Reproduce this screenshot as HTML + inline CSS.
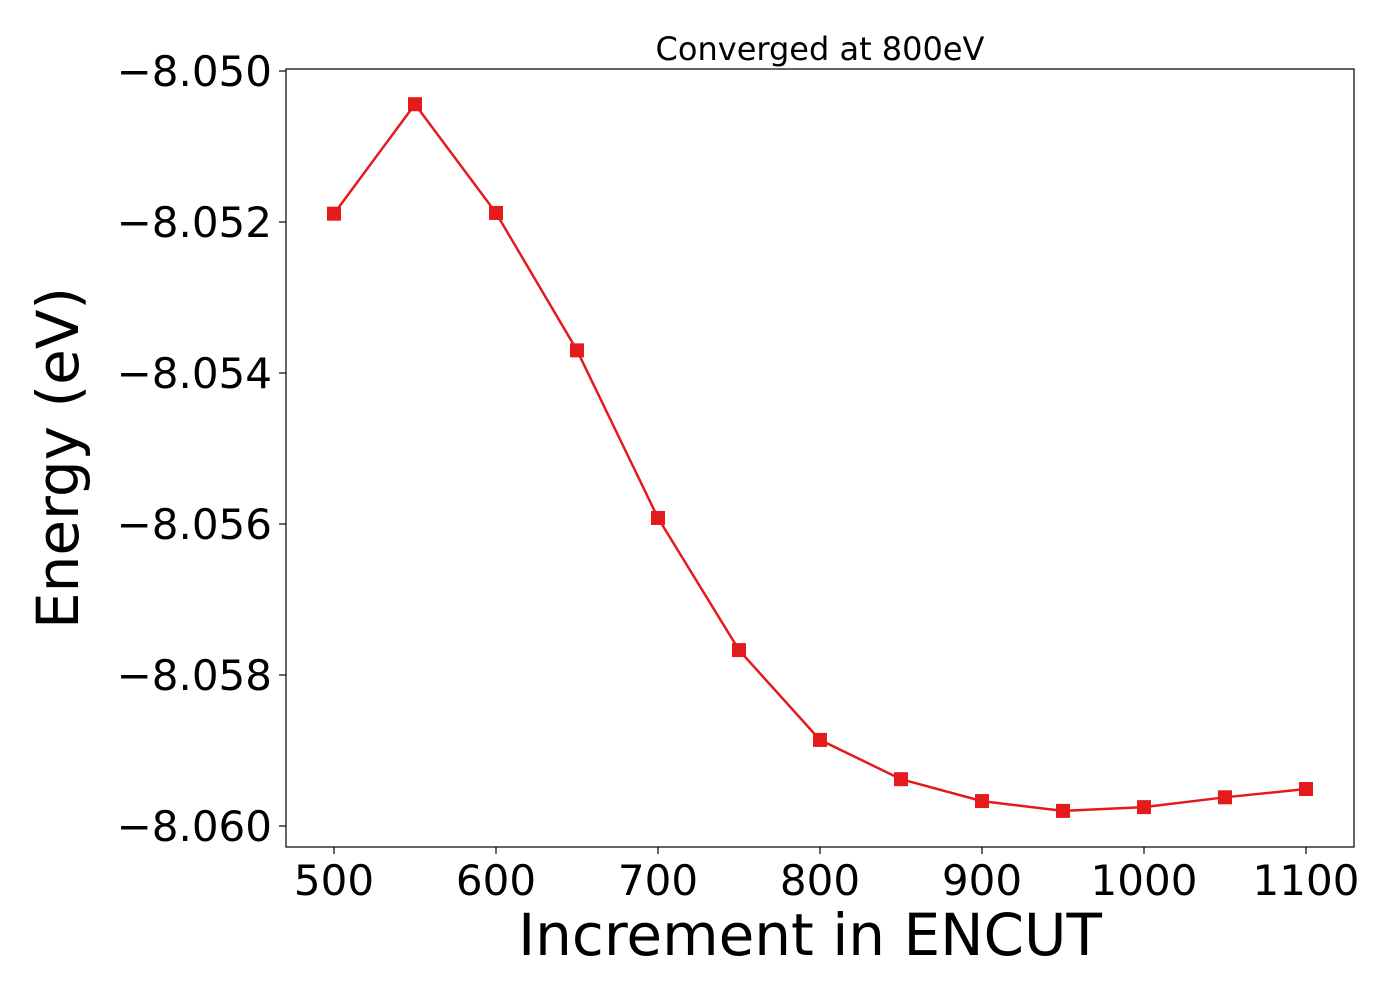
<!DOCTYPE html>
<html><head><meta charset="utf-8"><style>
html,body{margin:0;padding:0;background:#fff;}
svg{display:block;font-family:"DejaVu Sans","Liberation Sans",sans-serif;}
</style></head><body>
<svg id="chart" width="1400" height="1000" viewBox="0 0 1400 1000">
<rect x="0" y="0" width="1400" height="1000" fill="#fff"/>
<g id="grid"></g>
<g id="series"></g>
<rect x="286" y="69" width="1068" height="778" fill="none" stroke="#000" stroke-width="1.2"/>
<g id="xticks"></g><g id="yticks"></g>
<text x="820" y="60" text-anchor="middle" font-size="32">Converged at 800eV</text>
<text x="810" y="955" text-anchor="middle" font-size="58">Increment in ENCUT</text>
<text transform="translate(78,458) rotate(-90)" text-anchor="middle" font-size="58">Energy (eV)</text>
</svg>
<script>
const categories = [500,550,600,650,700,750,800,850,900,950,1000,1050,1100];
const energies = [-8.05189,-8.05044,-8.05188,-8.05370,-8.05592,-8.05767,-8.05886,-8.05938,-8.05967,-8.05980,-8.05975,-8.05962,-8.05951];
const xTicks = [500,600,700,800,900,1000,1100];
const yTicks = [-8.050,-8.052,-8.054,-8.056,-8.058,-8.060];
const yTickLabels = ["\u22128.050","\u22128.052","\u22128.054","\u22128.056","\u22128.058","\u22128.060"];

const NS="http://www.w3.org/2000/svg";
function xs(v){return 334+(v-500)*(1306-334)/600;}
function ys(v){return 71+(-8.050-v)*(826-71)/0.010;}
function mk(t,a,p){const e=document.createElementNS(NS,t);for(const k in a)e.setAttribute(k,a[k]);p.appendChild(e);return e;}

const xt=document.getElementById('xticks');
xTicks.forEach(v=>{
  const l=mk('line',{x1:xs(v),x2:xs(v),y1:847,y2:854,stroke:'#000','stroke-width':1.2},xt);
  
  
  const t=mk('text',{x:xs(v),y:895,'text-anchor':'middle','font-size':42},xt);
  t.textContent=v;
  
  
});
const yt=document.getElementById('yticks');
yTicks.forEach((v,i)=>{
  const l=mk('line',{x1:279,x2:286,y1:ys(v),y2:ys(v),stroke:'#000','stroke-width':1.2},yt);
  
  
  const t=mk('text',{x:272,y:ys(v)+15,'text-anchor':'end','font-size':42},yt);
  t.textContent=yTickLabels[i];
  
  
});
const s=document.getElementById('series');
const pts=categories.map((c,i)=>xs(c)+','+ys(energies[i])).join(' ');
const pl=mk('polyline',{points:pts,fill:'none',stroke:'#e41a1c','stroke-width':2.5},s);


categories.forEach((c,i)=>{
  const r=mk('rect',{x:xs(c)-7,y:ys(energies[i])-7,width:14,height:14,fill:'#e41a1c'},s);
  
  
});
</script>
</body></html>
